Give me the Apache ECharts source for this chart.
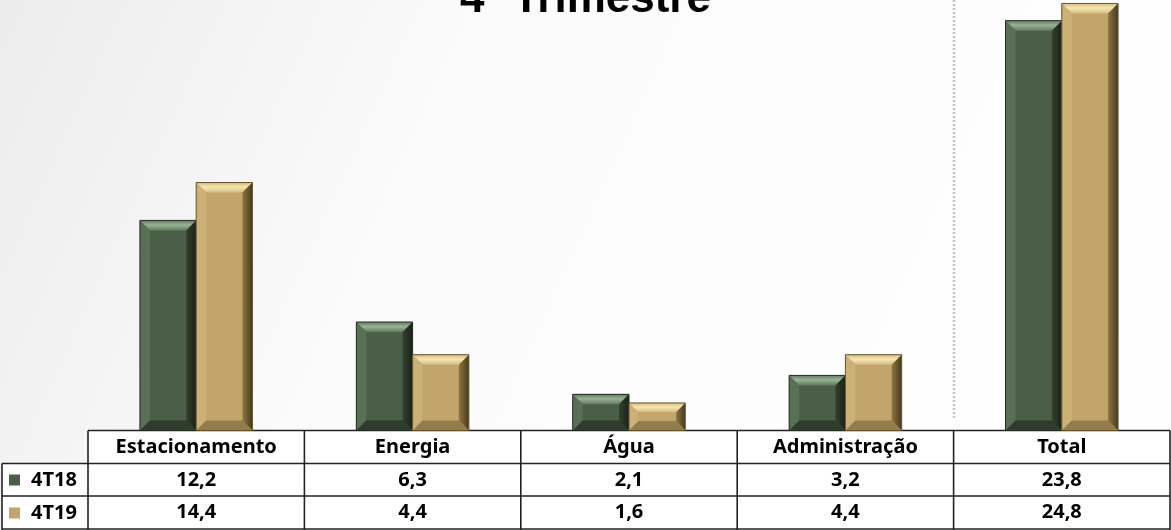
<!DOCTYPE html>
<html>
<head>
<meta charset="utf-8">
<script src="https://cdn.jsdelivr.net/npm/echarts@6/dist/echarts.min.js"></script>
<style>html,body{margin:0;padding:0;background:#fff}#c{width:1171px;height:530px}</style>
</head>
<body>
<div id="c"></div>
<script>
var categories = ['Estacionamento', 'Energia', 'Água', 'Administração', 'Total'];
var seriesNames = ['4T18', '4T19'];
var values4T18 = [12.2, 6.3, 2.1, 3.2, 23.8];
var values4T19 = [14.4, 4.4, 1.6, 4.4, 24.8];
var titleText = '4º Trimestre';

function fmt(v) { return v.toFixed(1).replace('.', ','); }

var palettes = [
  { base: '#4b5f48', topA: '#98b294', topB: '#647b60', left: '#5a7056', rightA: '#33412f', rightB: '#1a2117', bottom: '#2f3b2b', stroke: '#232c20' },
  { base: '#c1a56a', topA: '#f6e6b0', topB: '#d5bc84', left: '#cbb177', rightA: '#8c7642', rightB: '#463a20', bottom: '#937c4a', stroke: '#65552e' }
];

function makeRender(side) {
  var p = palettes[side];
  return function (params, api) {
    var cat = api.value(0), val = api.value(1);
    var base = api.coord([cat, 0]);
    var top = api.coord([cat, val]);
    var band = api.size([1, 0])[0];
    var w = band * 0.26;
    var x0 = side === 0 ? base[0] - w : base[0];
    var x1 = x0 + w;
    var y0 = top[1], y1 = base[1];
    var b = Math.min(10, (y1 - y0) / 3, w / 4);
    return {
      type: 'group',
      children: [
        { type: 'rect', shape: { x: x0, y: y0, width: w, height: y1 - y0 }, style: { fill: p.base } },
        { type: 'polygon', shape: { points: [[x0, y0], [x1, y0], [x1 - b, y0 + b], [x0 + b, y0 + b]] },
          style: { fill: new echarts.graphic.LinearGradient(0, 0, 0, 1, [{ offset: 0, color: p.topB }, { offset: 0.45, color: p.topA }, { offset: 1, color: p.topB }]) } },
        { type: 'polygon', shape: { points: [[x0, y0], [x0 + b, y0 + b], [x0 + b, y1 - b], [x0, y1]] }, style: { fill: p.left } },
        { type: 'polygon', shape: { points: [[x1, y0], [x1, y1], [x1 - b, y1 - b], [x1 - b, y0 + b]] },
          style: { fill: new echarts.graphic.LinearGradient(0, 0, 1, 0, [{ offset: 0, color: p.rightA }, { offset: 1, color: p.rightB }]) } },
        { type: 'polygon', shape: { points: [[x0, y1], [x0 + b, y1 - b], [x1 - b, y1 - b], [x1, y1]] }, style: { fill: p.bottom } },
        { type: 'rect', shape: { x: x0, y: y0, width: w, height: y1 - y0 }, style: { fill: null, stroke: p.stroke, lineWidth: 1 } }
      ]
    };
  };
}

var chart = echarts.init(document.getElementById('c'));
var FONT = 'Noto Sans';
var FS = 20;
var lineColor = '#222';
var colX = [88, 304.4, 520.8, 737.2, 953.6, 1170];
var rowY = [430.5, 463.5, 496, 529];
var graphics = [];
function hline(x1, x2, y) { graphics.push({ type: 'line', silent: true, shape: { x1: x1, y1: y, x2: x2, y2: y }, style: { stroke: lineColor, lineWidth: 1.6 } }); }
function vline(x, y1, y2) { graphics.push({ type: 'line', silent: true, shape: { x1: x, y1: y1, x2: x, y2: y2 }, style: { stroke: lineColor, lineWidth: 1.6 } }); }
graphics.push({ type: 'rect', silent: true, z: -1, shape: { x: 88, y: rowY[0], width: 1082, height: 100 }, style: { fill: '#fff' } });
graphics.push({ type: 'rect', silent: true, z: -1, shape: { x: 2, y: rowY[1], width: 86, height: 70 }, style: { fill: '#fff' } });
hline(88, 1170, rowY[0]);
hline(2, 1170, rowY[1]);
hline(2, 1170, rowY[2]);
hline(2, 1170, rowY[3]);
vline(2, rowY[1], 530);
colX.forEach(function (x) { vline(x, rowY[0], 530); });
graphics.push({ type: 'line', silent: true, shape: { x1: 954, y1: 0, x2: 954, y2: 418 }, style: { stroke: '#c4c4c4', lineWidth: 2.5, lineDash: [2, 2] } });

var valueAxisCommon = {
  type: 'category', data: categories, gridIndex: 0, position: 'bottom',
  axisLine: { show: false }, axisTick: { show: false }
};
function labelStyle(margin, fmtFn) {
  var s = { interval: 0, margin: margin, verticalAlign: 'middle', fontFamily: FONT, fontWeight: 'bold', fontSize: FS, color: '#000' };
  if (fmtFn) s.formatter = fmtFn;
  return s;
}

chart.setOption({
  animation: false,
  backgroundColor: new echarts.graphic.LinearGradient(0, 0, 1, 1, [
    { offset: 0, color: '#ececec' }, { offset: 0.35, color: '#fbfbfb' }, { offset: 1, color: '#ffffff' }
  ]),
  title: {
    text: titleText, left: 'center', top: -27,
    textStyle: { fontFamily: 'Liberation Sans', fontWeight: 'bold', fontSize: 44, color: '#000' }
  },
  legend: {
    data: seriesNames, orient: 'vertical', left: 9, top: 470, padding: 0,
    itemWidth: 11, itemHeight: 11, itemGap: 13, icon: 'rect',
    textStyle: { fontFamily: FONT, fontWeight: 'bold', fontSize: FS, color: '#000', lineHeight: 20, padding: [0, 0, 0, 6] }
  },
  grid: { left: 88, right: 1, top: 0, bottom: 99.5 },
  xAxis: [
    Object.assign({}, valueAxisCommon, { axisLabel: labelStyle(17) }),
    Object.assign({}, valueAxisCommon, { axisLabel: labelStyle(50, function (v, i) { return fmt(values4T18[i]); }) }),
    Object.assign({}, valueAxisCommon, { axisLabel: labelStyle(82, function (v, i) { return fmt(values4T19[i]); }) })
  ],
  yAxis: { type: 'value', min: 0, max: 25, show: false },
  series: [
    { name: seriesNames[0], type: 'custom', xAxisIndex: 0, renderItem: makeRender(0), itemStyle: { color: palettes[0].base },
      encode: { x: 0, y: 1 }, data: values4T18.map(function (v, i) { return [i, v]; }) },
    { name: seriesNames[1], type: 'custom', xAxisIndex: 0, renderItem: makeRender(1), itemStyle: { color: palettes[1].base },
      encode: { x: 0, y: 1 }, data: values4T19.map(function (v, i) { return [i, v]; }) }
  ],
  graphic: graphics
});
</script>
</body>
</html>
